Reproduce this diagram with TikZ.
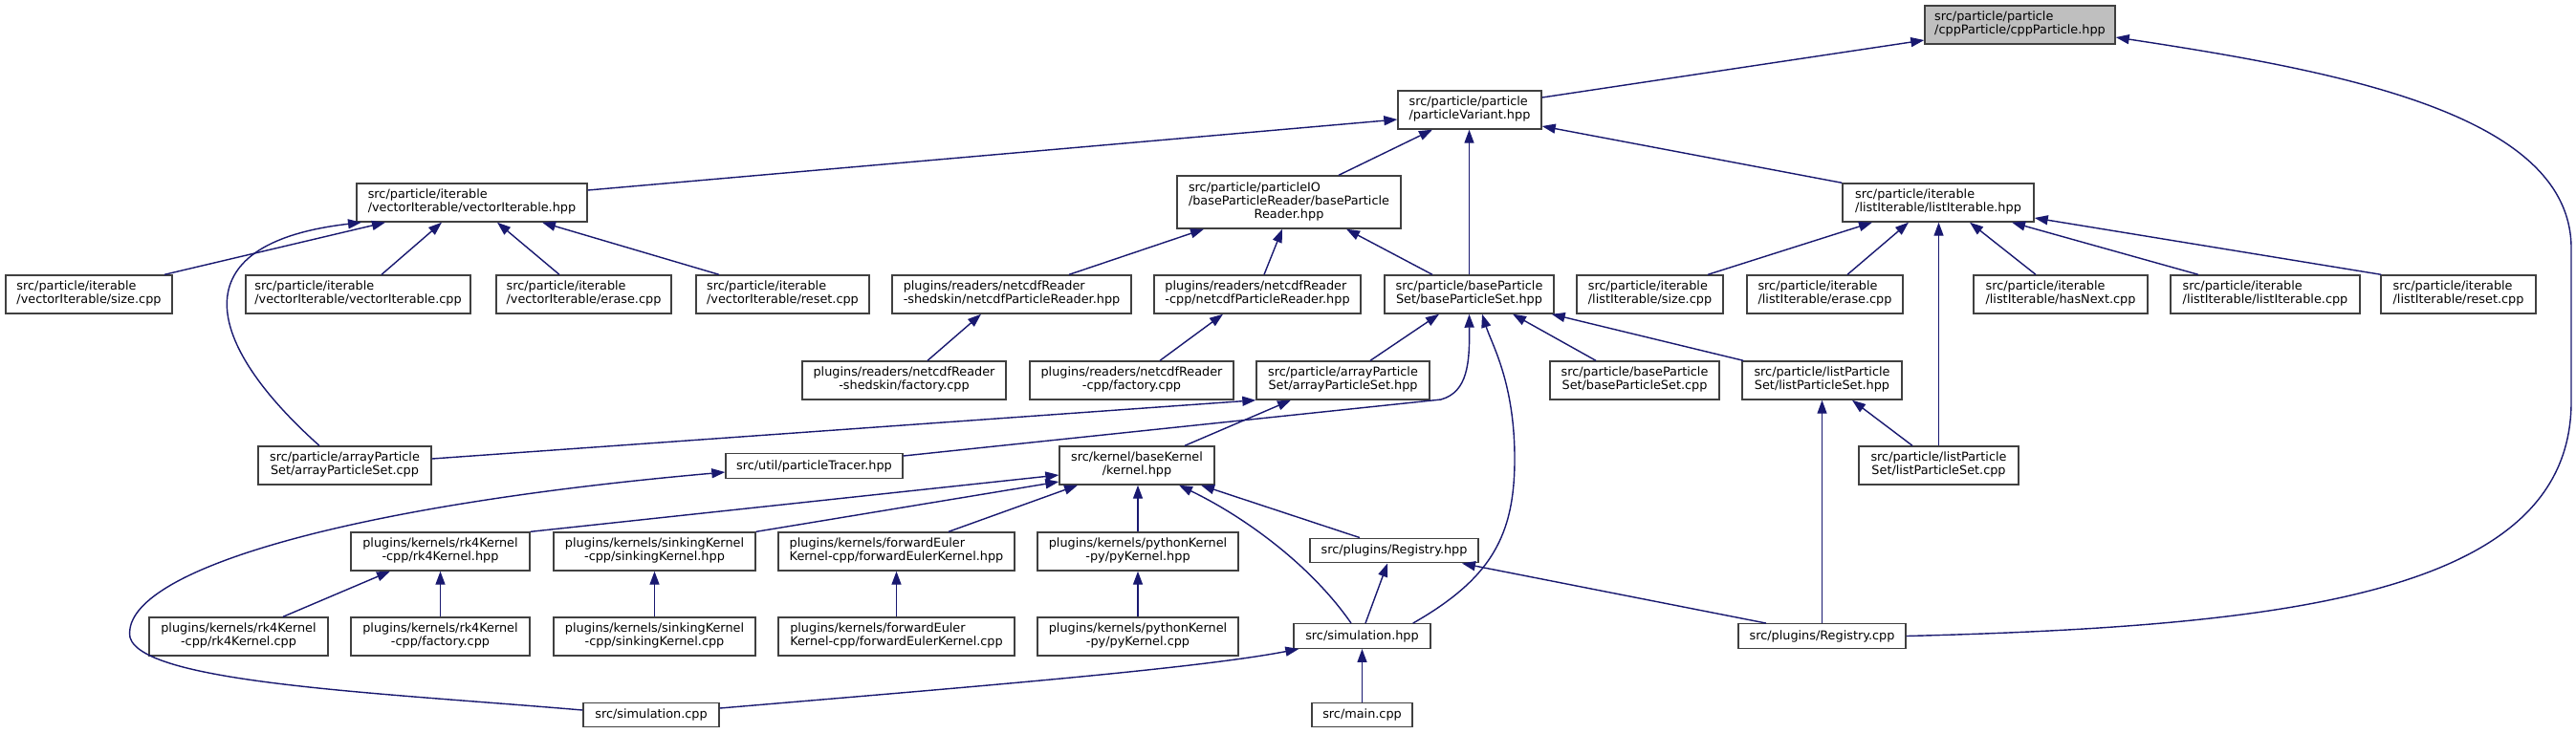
\documentclass[tikz,border=0pt]{standalone}
\usepackage{fontspec}
\setmainfont{DejaVu Sans}
\usetikzlibrary{arrows.meta}
\definecolor{cEdge}{HTML}{191970}
\definecolor{cBorder}{HTML}{404040}
\definecolor{cCur}{HTML}{BFBFBF}

% two/three line file label: upper lines left, last line centred
\newcommand{\flbl}[2]{\begin{tabular}{@{}l@{}}#1\\\multicolumn{1}{@{}c@{}}{#2}\end{tabular}}

\begin{document}
\begin{tikzpicture}[
    file/.style={
        draw=cBorder, fill=white, line width=0.4pt, inner sep=0pt,
        font=\fontsize{3.65pt}{3.98pt}\selectfont
    },
    two/.style={file, minimum height=0.40cm},
    one/.style={file, minimum height=0.255cm},
    cur/.style={two, fill=cCur},
    inc/.style={-{Triangle[length=1.4mm, width=1mm]}, draw=cEdge, line width=0.4pt},
]

\fill[white] (0,0) rectangle (26.94,-7.67);
\useasboundingbox (0,0) rectangle (26.94,-7.67);

% =============================================
% TOP: the header itself and particleVariant
% =============================================

\node[cur, minimum width=1.99cm] (cpp) at (21.125,-0.26)
    {\flbl{src/particle/particle}{/cppParticle/cppParticle.hpp}};
\node[two, minimum width=1.50cm] (pvar) at (15.37,-1.15)
    {\flbl{src/particle/particle}{/particleVariant.hpp}};

% =============================================
% ROW 2: iterables and reader
% =============================================

\node[two, minimum width=2.41cm] (vecit) at (4.935,-2.12)
    {\flbl{src/particle/iterable}{/vectorIterable/vectorIterable.hpp}};
\node[file, minimum width=2.34cm, minimum height=0.55cm] (bpr) at (13.48,-2.115)
    {\begin{tabular}{@{}l@{}}src/particle/particleIO\\/baseParticleReader/baseParticle\\\multicolumn{1}{@{}c@{}}{Reader.hpp}\end{tabular}};
\node[two, minimum width=2.00cm] (listit) at (20.27,-2.12)
    {\flbl{src/particle/iterable}{/listIterable/listIterable.hpp}};

% =============================================
% ROW 3
% =============================================

\node[two, minimum width=1.74cm] (vsize) at (0.93,-3.08)
    {\flbl{src/particle/iterable}{/vectorIterable/size.cpp}};
\node[two, minimum width=2.35cm] (vcpp) at (3.745,-3.08)
    {\flbl{src/particle/iterable}{/vectorIterable/vectorIterable.cpp}};
\node[two, minimum width=1.83cm] (verase) at (6.105,-3.08)
    {\flbl{src/particle/iterable}{/vectorIterable/erase.cpp}};
\node[two, minimum width=1.81cm] (vreset) at (8.185,-3.08)
    {\flbl{src/particle/iterable}{/vectorIterable/reset.cpp}};
\node[two, minimum width=2.50cm] (nshhpp) at (10.58,-3.08)
    {\flbl{plugins/readers/netcdfReader}{-shedskin/netcdfParticleReader.hpp}};
\node[two, minimum width=2.16cm] (ncpphpp) at (13.15,-3.08)
    {\flbl{plugins/readers/netcdfReader}{-cpp/netcdfParticleReader.hpp}};
\node[two, minimum width=1.77cm] (bps) at (15.365,-3.08)
    {\flbl{src/particle/baseParticle}{Set/baseParticleSet.hpp}};
\node[two, minimum width=1.53cm] (lsize) at (17.255,-3.08)
    {\flbl{src/particle/iterable}{/listIterable/size.cpp}};
\node[two, minimum width=1.63cm] (lerase) at (19.085,-3.08)
    {\flbl{src/particle/iterable}{/listIterable/erase.cpp}};
\node[two, minimum width=1.82cm] (lnext) at (21.55,-3.08)
    {\flbl{src/particle/iterable}{/listIterable/hasNext.cpp}};
\node[two, minimum width=1.98cm] (lcpp) at (23.69,-3.08)
    {\flbl{src/particle/iterable}{/listIterable/listIterable.cpp}};
\node[two, minimum width=1.62cm] (lreset) at (25.71,-3.08)
    {\flbl{src/particle/iterable}{/listIterable/reset.cpp}};

% =============================================
% ROW 4
% =============================================

\node[two, minimum width=2.13cm] (nshfac) at (9.455,-3.98)
    {\flbl{plugins/readers/netcdfReader}{-shedskin/factory.cpp}};
\node[two, minimum width=2.13cm] (ncppfac) at (11.835,-3.98)
    {\flbl{plugins/readers/netcdfReader}{-cpp/factory.cpp}};
\node[two, minimum width=1.81cm] (aps) at (14.045,-3.98)
    {\flbl{src/particle/arrayParticle}{Set/arrayParticleSet.hpp}};
\node[two, minimum width=1.77cm] (bpscpp) at (17.095,-3.98)
    {\flbl{src/particle/baseParticle}{Set/baseParticleSet.cpp}};
\node[two, minimum width=1.67cm] (lps) at (19.055,-3.98)
    {\flbl{src/particle/listParticle}{Set/listParticleSet.hpp}};

% =============================================
% ROW 5
% =============================================

\node[two, minimum width=1.81cm] (apscpp) at (3.605,-4.87)
    {\flbl{src/particle/arrayParticle}{Set/arrayParticleSet.cpp}};
\node[one, minimum width=1.85cm] (tracer) at (8.515,-4.875) {src/util/particleTracer.hpp};
\node[two, minimum width=1.62cm] (kernel) at (11.89,-4.87)
    {\flbl{src/kernel/baseKernel}{/kernel.hpp}};
\node[two, minimum width=1.67cm] (lpscpp) at (20.275,-4.87)
    {\flbl{src/particle/listParticle}{Set/listParticleSet.cpp}};

% =============================================
% ROW 6: kernel headers
% =============================================

\node[two, minimum width=1.87cm] (rk4hpp) at (4.605,-5.77)
    {\flbl{plugins/kernels/rk4Kernel}{-cpp/rk4Kernel.hpp}};
\node[two, minimum width=2.11cm] (sinkhpp) at (6.845,-5.77)
    {\flbl{plugins/kernels/sinkingKernel}{-cpp/sinkingKernel.hpp}};
\node[two, minimum width=2.47cm] (fehpp) at (9.375,-5.77)
    {\flbl{plugins/kernels/forwardEuler}{Kernel-cpp/forwardEulerKernel.hpp}};
\node[two, minimum width=2.10cm] (pyhpp) at (11.90,-5.77)
    {\flbl{plugins/kernels/pythonKernel}{-py/pyKernel.hpp}};
\node[one, minimum width=1.76cm] (reghpp) at (14.58,-5.76) {src/plugins/Registry.hpp};

% =============================================
% ROW 7: kernel sources
% =============================================

\node[two, minimum width=1.87cm] (rk4cpp) at (2.495,-6.66)
    {\flbl{plugins/kernels/rk4Kernel}{-cpp/rk4Kernel.cpp}};
\node[two, minimum width=1.87cm] (rk4fac) at (4.605,-6.66)
    {\flbl{plugins/kernels/rk4Kernel}{-cpp/factory.cpp}};
\node[two, minimum width=2.11cm] (sinkcpp) at (6.845,-6.66)
    {\flbl{plugins/kernels/sinkingKernel}{-cpp/sinkingKernel.cpp}};
\node[two, minimum width=2.47cm] (fecpp) at (9.375,-6.66)
    {\flbl{plugins/kernels/forwardEuler}{Kernel-cpp/forwardEulerKernel.cpp}};
\node[two, minimum width=2.10cm] (pycpp) at (11.90,-6.66)
    {\flbl{plugins/kernels/pythonKernel}{-py/pyKernel.cpp}};
\node[one, minimum width=1.43cm] (simhpp) at (14.245,-6.655) {src/simulation.hpp};
\node[one, minimum width=1.75cm] (regcpp) at (19.055,-6.655) {src/plugins/Registry.cpp};

% =============================================
% ROW 8
% =============================================

\node[one, minimum width=1.42cm] (simcpp) at (6.81,-7.48) {src/simulation.cpp};
\node[one, minimum width=1.05cm] (maincpp) at (14.245,-7.48) {src/main.cpp};

% =============================================
% INCLUDE EDGES (arrow points at the included file)
% =============================================

% into cppParticle.hpp
\draw[inc] ([yshift=0.13cm]pvar.east) -- ([yshift=-0.16cm]cpp.west);
\draw[inc] (regcpp.east) .. controls (24.0,-6.55) and (26.89,-6.2) .. (26.89,-4.2)
    -- (26.89,-2.6) .. controls (26.89,-1.2) and (24.5,-0.75) .. ([yshift=-0.13cm]cpp.east);

% into particleVariant.hpp
\draw[inc] ([yshift=0.13cm]vecit.east) -- ([yshift=-0.10cm]pvar.west);
\draw[inc] ([xshift=0.52cm]bpr.north) -- ([xshift=-0.39cm]pvar.south);
\draw[inc] (bps.north) -- (bps.north |- pvar.south);
\draw[inc] (listit.north west) -- ([yshift=-0.17cm]pvar.east);

% into vectorIterable.hpp
\draw[inc] ([xshift=0.79cm]vsize.north) -- ([xshift=-0.905cm]vecit.south);
\draw[inc] ([xshift=-0.265cm]apscpp.north) .. controls (2.15,-3.6) and (1.85,-2.55) .. ([xshift=-1.155cm]vecit.south);
\draw[inc] ([xshift=0.245cm]vcpp.north) -- ([xshift=-0.315cm]vecit.south);
\draw[inc] ([xshift=-0.255cm]verase.north) -- ([xshift=0.265cm]vecit.south);
\draw[inc] ([xshift=-0.665cm]vreset.north) -- ([xshift=0.735cm]vecit.south);

% into baseParticleReader.hpp
\draw[inc] ([xshift=0.6cm]nshhpp.north) -- ([xshift=-0.89cm]bpr.south);
\draw[inc] ([xshift=0.07cm]ncpphpp.north) -- ([xshift=-0.07cm]bpr.south);
\draw[inc] ([xshift=-0.385cm]bps.north) -- ([xshift=0.6cm]bpr.south);

% into listIterable.hpp
\draw[inc] ([xshift=0.605cm]lsize.north) -- ([xshift=-0.69cm]listit.south);
\draw[inc] ([xshift=0.235cm]lerase.north) -- ([xshift=-0.31cm]listit.south);
\draw[inc] (lpscpp.north) -- (lpscpp.north |- listit.south);
\draw[inc] ([xshift=-0.26cm]lnext.north) -- ([xshift=0.33cm]listit.south);
\draw[inc] ([xshift=-0.70cm]lcpp.north) -- ([xshift=0.77cm]listit.south);
\draw[inc] ([xshift=0.01cm]lreset.north west) -- ([yshift=-0.16cm]listit.east);

% readers
\draw[inc] ([xshift=0.245cm]nshfac.north) -- ([xshift=-0.32cm]nshhpp.south);
\draw[inc] ([xshift=0.295cm]ncppfac.north) -- ([xshift=-0.36cm]ncpphpp.south);

% into baseParticleSet.hpp
\draw[inc] ([xshift=0.285cm]aps.north) -- ([xshift=-0.315cm]bps.south);
\draw[inc] ([yshift=0.105cm]tracer.east) -- (15.07,-4.18) .. controls (15.35,-4.1) and (15.37,-3.8) .. (bps.south);
\draw[inc] ([xshift=-0.19cm]simhpp.north east) .. controls (15.60,-6.05) and (15.84,-5.6) .. (15.84,-4.8)
    .. controls (15.84,-4.0) and (15.6,-3.6) .. ([xshift=0.135cm]bps.south);
\draw[inc] ([xshift=-0.405cm]bpscpp.north) -- ([xshift=0.455cm]bps.south);
\draw[inc] ([xshift=0.02cm]lps.north west) -- ([xshift=-0.03cm]bps.south east);

% into arrayParticleSet.hpp and listParticleSet.hpp
\draw[inc] ([yshift=0.07cm]apscpp.east) -- (aps.south west);
\draw[inc] ([xshift=0.5cm]kernel.north) -- ([xshift=-0.545cm]aps.south);
\draw[inc] ([xshift=-0.275cm]lpscpp.north) -- ([xshift=0.315cm]lps.south);

% into particleTracer.hpp
\draw[inc] ([yshift=0.05cm]simcpp.west) .. controls (4.0,-7.25) and (1.5,-7.15) .. (1.36,-6.67)
    .. controls (1.25,-6.0) and (3.5,-5.3) .. ([yshift=-0.065cm]tracer.west);

% into kernel.hpp
\draw[inc] (rk4hpp.north east) -- ([yshift=-0.10cm]kernel.west);
\draw[inc] (sinkhpp.north east) -- ([yshift=-0.17cm]kernel.west);
\draw[inc] ([xshift=0.545cm]fehpp.north) -- ([xshift=-0.62cm]kernel.south);
\draw[inc] (pyhpp.north) -- (pyhpp.north |- kernel.south);
\draw[inc] ([xshift=-0.115cm]simhpp.north) .. controls (13.70,-5.9) and (13.0,-5.4) .. ([xshift=0.44cm]kernel.south);
\draw[inc] ([xshift=-0.36cm]reghpp.north) -- ([xshift=0.67cm]kernel.south);

% kernel sources, Registry and simulation
\draw[inc] ([xshift=0.465cm]rk4cpp.north) -- ([xshift=-0.525cm]rk4hpp.south);
\foreach \src/\dst in {rk4fac/rk4hpp, sinkcpp/sinkhpp, fecpp/fehpp, pycpp/pyhpp, maincpp/simhpp, regcpp/lps}
    \draw[inc] (\src.north) -- (\src.north |- \dst.south);
\draw[inc] ([xshift=0.035cm]simhpp.north) -- ([xshift=-0.07cm]reghpp.south);
\draw[inc] ([xshift=-0.585cm]regcpp.north) -- ([xshift=0.71cm]reghpp.south);
\draw[inc] ([yshift=0.07cm]simcpp.east) .. controls (10.0,-7.2) and (12.5,-7.0) .. ([xshift=0.06cm]simhpp.south west);

\end{tikzpicture}
\end{document}
